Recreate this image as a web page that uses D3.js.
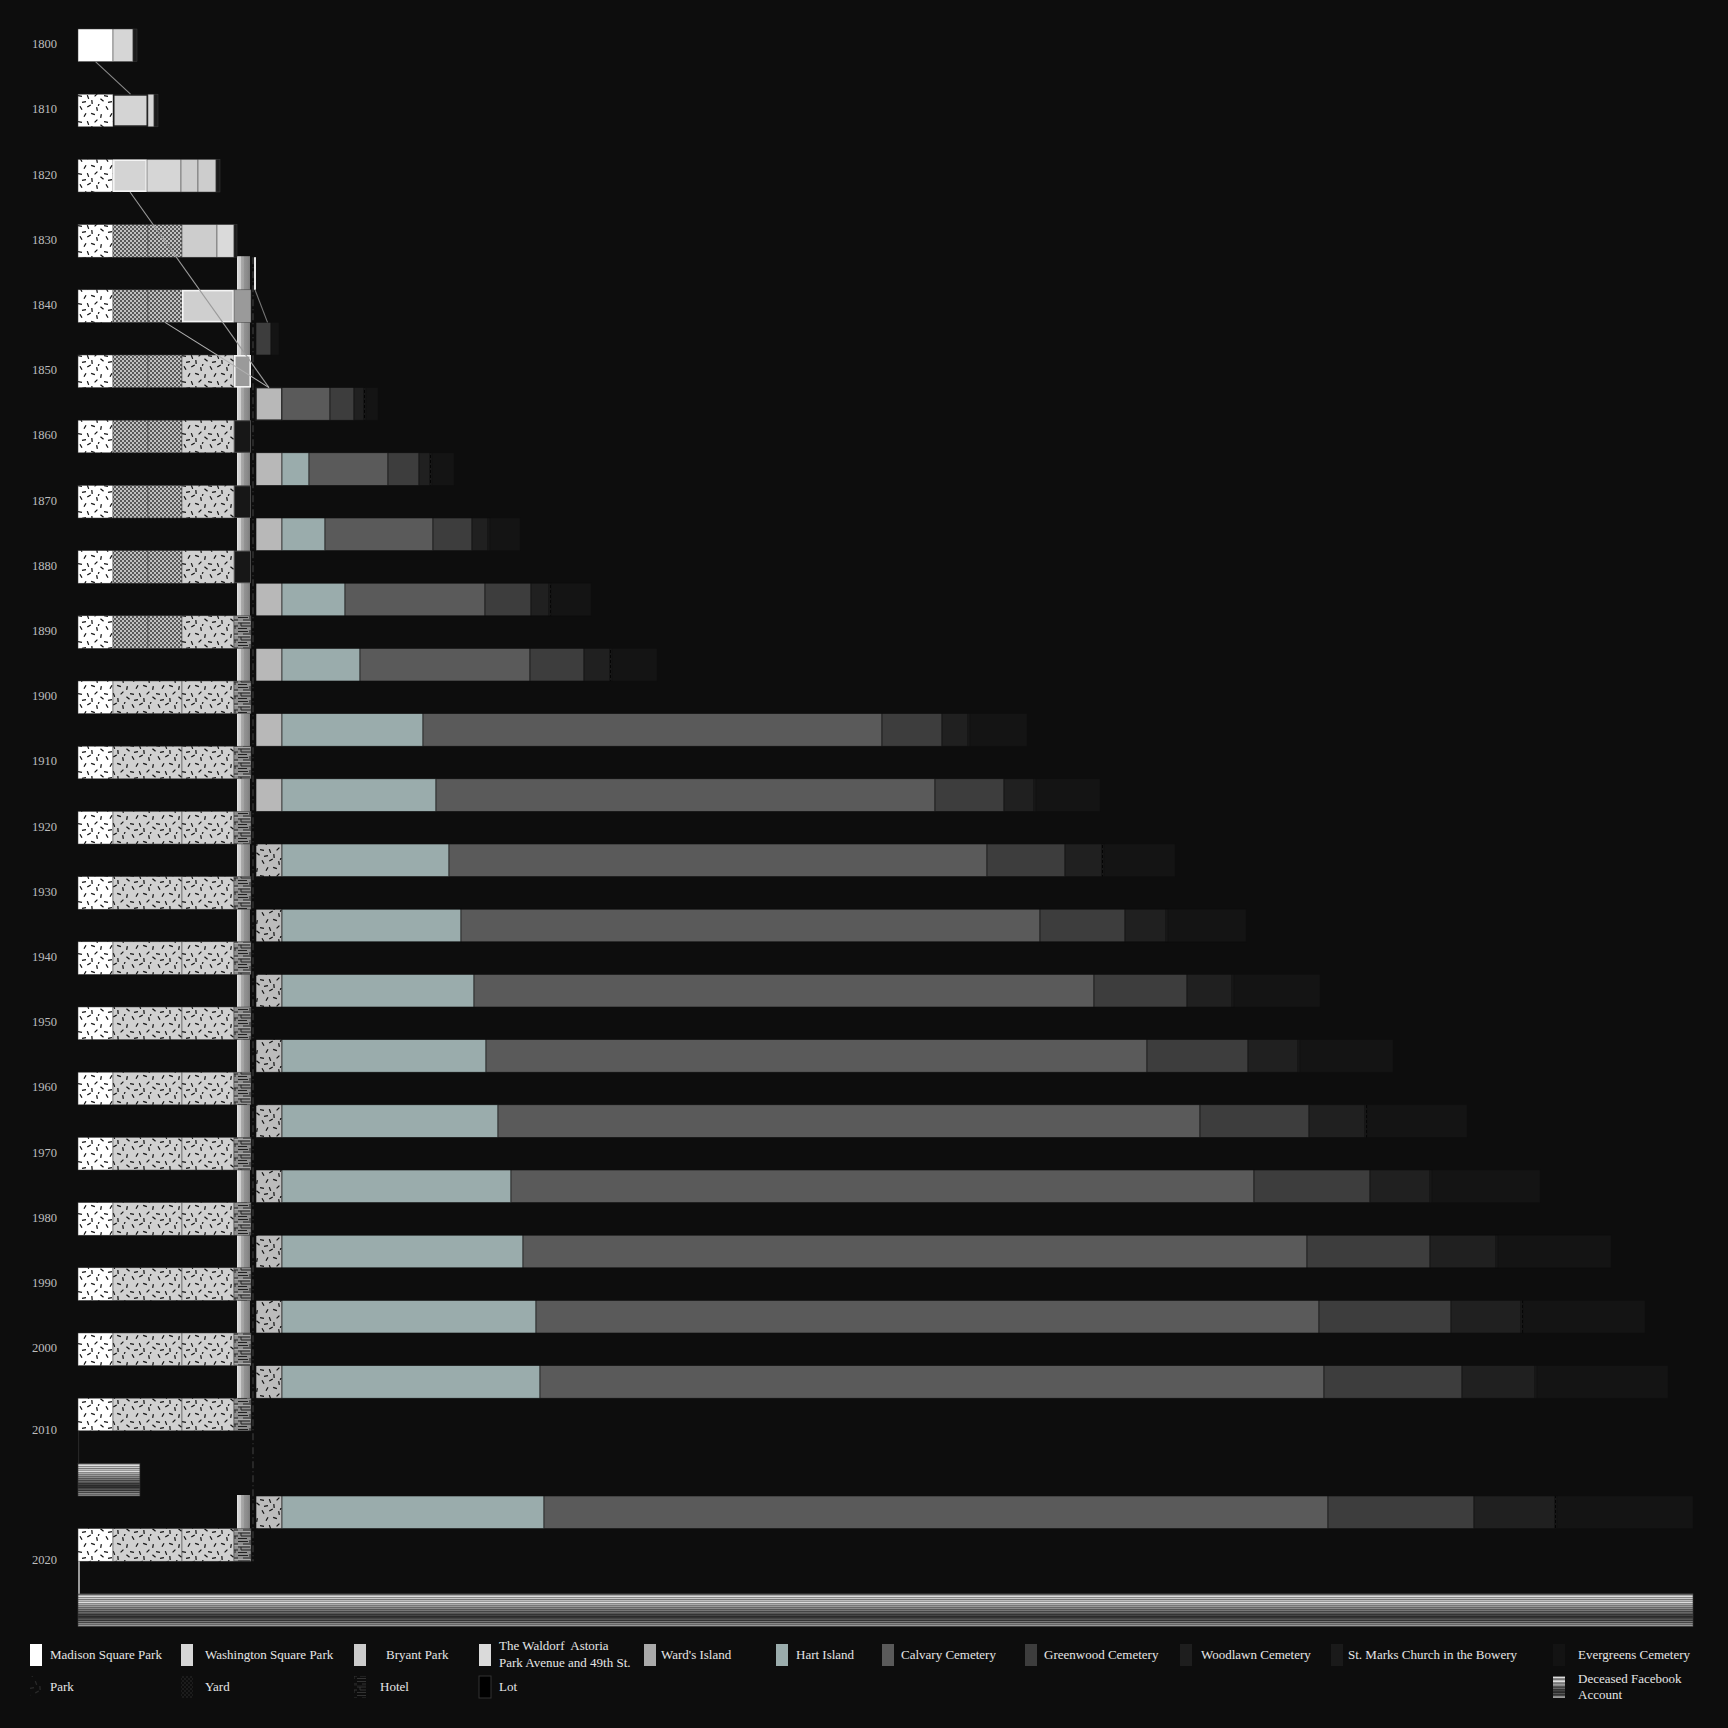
<!DOCTYPE html>
<html><head><meta charset="utf-8">
<script src="https://cdn.jsdelivr.net/npm/d3@7"></script>
<style>
html,body{margin:0;padding:0;background:#0d0d0d;}
svg{display:block;}
text{font-family:"Liberation Serif","DejaVu Serif",serif;}
</style></head><body>
<svg id="chart" width="1728" height="1728"></svg>
<script>
// ---------------- DATA ----------------
const leftYears = [1800,1810,1820,1830,1840,1850,1860,1870,1880,1890,1900,1910,1920,1930,1940,1950,1960,1970,1980,1990,2000,2010,2020];
// land use of the four old potter's field sites per year: [use, extent]
const leftRows = [
  [["msp",35],["wsp",20],["edge",4]],
  [["mspPark",35],["wspBox",35],["wsp",6],["edge",4]],
  [["mspPark",35],["wspHi",34],["wsp",34],["bryant",17],["bryant",18],["edge",4]],
  [["mspPark",35],["yard",35],["yard",34],["bryant",35],["waldorf",17],["edge",3]],
  [["mspPark",35],["yard",35],["yard",34],["bryantHi",52],["ward",17]],
  [["mspPark",35],["yard",35],["yard",34],["parkGray",52],["waldorfHi",17]],
  [["mspPark",35],["yard",35],["yard",34],["parkGray",52],["lot",17]],
  [["mspPark",35],["yard",35],["yard",34],["parkGray",52],["lot",17]],
  [["mspPark",35],["yard",35],["yard",34],["parkGray",52],["lot",17]],
  [["mspPark",35],["yard",35],["yard",34],["parkGray",52],["hotel",17]]
];
const modernRow = [["mspPark",35],["parkGray",69],["parkGray",52],["hotel",17]];

const decades = ["1830s","1840s","1850s","1860s","1870s","1880s","1890s","1900s","1910s","1920s","1930s","1940s","1950s","1960s","1970s","1980s","1990s","2000s","2010s"];
const wardsIsland = [0,0,26,26,26,26,26,26,26,26,26,26,26,26,26,26,26,26,26];
const wardsIsPark = [0,0,0,0,0,0,0,0,0,1,1,1,1,1,1,1,1,1,1];
const hartIsland  = [0,0,0,27,43,63,78,141,154,167,179,192,204,216,229,241,254,258,262];
const calvary     = [0,0,48,79,108,140,170,459,499,538,579,620,661,702,743,784,783,784,784];
const greenwood   = [0,15,24,31,39,46,54,60,69,78,85,93,101,109,116,123,132,138,146];
const woodlawn    = [0,0,10,11,16,18,26,26,30,37,41,45,50,56,60,66,70,73,81];
const stMarks     = [0,0,2,2,2,2,2,2,2,2,2,2,2,2,2,2,2,2,2];
const evergreens  = [0,8,12,22,30,40,45,57,64,71,78,86,93,100,108,113,122,131,136];
const transfer1830s = 2;

const fbYears = ["2010","2020"];
const fbAccounts = [1.2, 31.3];

const legendRow1 = ["Madison Square Park","Washington Square Park","Bryant Park",["The Waldorf  Astoria","Park Avenue and 49th St."],"Ward's Island","Hart Island","Calvary Cemetery","Greenwood Cemetery","Woodlawn Cemetery","St. Marks Church in the Bowery","Evergreens Cemetery"];
const legendRow2 = ["Park","Yard","Hotel","Lot",["Deceased Facebook","Account"]];

// ---------------- SETUP ----------------
const svg = d3.select("#chart");
svg.append("rect").attr("width",1728).attr("height",1728).attr("fill","#0d0d0d");
const defs = svg.append("defs");

const dashes = [[3,4,60],[11,2,-30],[19,5,80],[7,11,-60],[15,10,20],[23,12,-80],[2,18,10],[10,19,70],[18,17,-45],[24,22,40],[6,24,-10],[14,24,85],[21,0,-70]];
function parkPattern(id,bg,ink){
  const p = defs.append("pattern").attr("id",id).attr("patternUnits","userSpaceOnUse").attr("width",26).attr("height",26);
  p.append("rect").attr("width",26).attr("height",26).attr("fill",bg);
  dashes.forEach(([x,yy,a])=>{
    p.append("line").attr("x1",x-2).attr("x2",x+2).attr("y1",yy).attr("y2",yy)
      .attr("transform",`rotate(${a},${x},${yy})`).attr("stroke",ink).attr("stroke-width",1.2);
  });
}
parkPattern("parkWhite","#ffffff","#111");
parkPattern("parkGray","#d0d0d0","#111");
parkPattern("parkLight","#bcbcbc","#111");
parkPattern("parkDark","#0d0d0d","#2a2a2a");

function yardPattern(id,light,dark){
  const p = defs.append("pattern").attr("id",id).attr("patternUnits","userSpaceOnUse").attr("width",4).attr("height",4);
  p.append("rect").attr("width",4).attr("height",4).attr("fill",light);
  p.append("rect").attr("width",2).attr("height",2).attr("fill",dark);
  p.append("rect").attr("x",2).attr("y",2).attr("width",2).attr("height",2).attr("fill",dark);
}
yardPattern("yard","#c0c0c0","#585858");
yardPattern("yardDark","#1c1c1c","#0d0d0d");

function hotelPattern(id,bg,ink,hi){
  const p = defs.append("pattern").attr("id",id).attr("patternUnits","userSpaceOnUse").attr("width",17).attr("height",14);
  p.append("rect").attr("width",17).attr("height",14).attr("fill",bg);
  [[0,1.5,10],[5,4,17],[0,7,12],[3,10,17],[0,12.5,9]].forEach(([x1,yy,x2])=>{
    p.append("line").attr("x1",x1).attr("x2",x2).attr("y1",yy).attr("y2",yy).attr("stroke",ink).attr("stroke-width",1);
  });
  [[12,0,3],[3,7,3],[14,10,3]].forEach(([x,yy,h])=>{
    p.append("line").attr("x1",x).attr("x2",x).attr("y1",yy).attr("y2",yy+h).attr("stroke",ink).attr("stroke-width",1);
  });
  p.append("line").attr("x1",0).attr("x2",17).attr("y1",5.5).attr("y2",5.5).attr("stroke",hi).attr("stroke-width",0.8);
}
hotelPattern("hotel","#8e8e8e","#222","#b0b0b0");
hotelPattern("hotelDark","#0d0d0d","#333","#1a1a1a");

const sm = defs.append("pattern").attr("id","stmarks").attr("patternUnits","userSpaceOnUse").attr("width",3).attr("height",5);
sm.append("rect").attr("width",3).attr("height",5).attr("fill","#1c1c1c");
sm.append("rect").attr("x",1).attr("width",1).attr("height",3).attr("fill","#000");

const fbStripes = ["#666","#aaa","#ddd","#888","#ccc","#777","#bbb","#999","#ddd","#888","#aaa","#777","#999","#666","#888","#555","#777","#444","#666","#555","#333","#444","#2a2a2a","#333","#2a2a2a","#444","#555","#333","#777","#444","#888","#666","#999"];
const fg = defs.append("linearGradient").attr("id","fbGrad").attr("x1",0).attr("y1",0).attr("x2",0).attr("y2",1);
fbStripes.forEach((c,i)=>{
  fg.append("stop").attr("offset",i/fbStripes.length).attr("stop-color",c);
  fg.append("stop").attr("offset",(i+1)/fbStripes.length).attr("stop-color",c);
});
const sg = defs.append("linearGradient").attr("id","stripGrad").attr("x1",0).attr("y1",0).attr("x2",1).attr("y2",0);
[["0","#e6e6e6"],["0.15","#cfcfcf"],["0.3","#cfcfcf"],["0.31","#ababab"],["0.55","#a0a0a0"],["0.56","#939393"],["0.8","#8a8a8a"],["1","#7c7c7c"]]
  .forEach(([o,c])=>sg.append("stop").attr("offset",o).attr("stop-color",c));

const rowKeys = [];
for(let yr=1800; yr<=2000; yr+=10){ rowKeys.push(String(yr)); rowKeys.push(yr+"s"); }
rowKeys.push("2010","gap","fb2010","2010s","2020","stem","fb2020");
const y = d3.scaleBand().domain(rowKeys).range([29, 29 + rowKeys.length*32.6]);
const bw = y.bandwidth();

const xL = d3.scaleLinear().domain([0,172]).range([78,250]);
const xR = d3.scaleLinear().domain([0,1437]).range([256,1693]);
const xF = d3.scaleLinear().domain([0,31.3]).range([78,1693]);

// ---------------- BACKGROUND STRUCTURE ----------------
svg.append("g").selectAll("rect").data(decades).join("rect")
  .attr("x", xL(159)).attr("width", xL(172)-xL(159))
  .attr("y", d=>y(d)-1).attr("height", bw+2)
  .attr("fill","url(#stripGrad)");

svg.append("line")
  .attr("x1",(xL(172)+xR(0))/2).attr("x2",(xL(172)+xR(0))/2)
  .attr("y1",y("1830s")).attr("y2",y("2020")+bw)
  .attr("stroke","#3a3a3a").attr("stroke-width",1.2).attr("stroke-dasharray","7,3,1,3");

// ---------------- LEFT ROWS ----------------
const leftStyle = {
  msp:{fill:"#ffffff"}, mspPark:{fill:"url(#parkWhite)"},
  wsp:{fill:"#d6d6d6"}, wspBox:{fill:"#d4d4d4",stroke:"#1c1c1c",sw:1.5},
  wspHi:{fill:"#d4d4d4",stroke:"#f4f4f4",sw:1.6},
  bryant:{fill:"#cdcdcd"}, bryantHi:{fill:"#cfcfcf",stroke:"#f4f4f4",sw:1.6},
  yard:{fill:"url(#yard)"}, parkGray:{fill:"url(#parkGray)"},
  waldorf:{fill:"#dadada"}, ward:{fill:"#9a9a9a"},
  waldorfHi:{fill:"#9a9a9a",stroke:"#f4f4f4",sw:1.6},
  lot:{fill:"#171717",stroke:"#4a4a4a",sw:1},
  hotel:{fill:"url(#hotel)"}, edge:{fill:"#1b1b1b"}
};
const segPos = {};
const leftData = [];
leftYears.forEach((yr,i)=>{
  const row = i < leftRows.length ? leftRows[i] : modernRow;
  let acc = 0; segPos[String(yr)] = [];
  row.forEach(([type,w])=>{
    leftData.push({key:String(yr), type, x0:acc, x1:acc+w});
    segPos[String(yr)].push([xL(acc), xL(acc+w)]);
    acc += w;
  });
});
const gL = svg.append("g");
gL.selectAll("rect").data(leftData).join("rect")
  .each(function(d){
    const s = leftStyle[d.type];
    const sw = s.sw || 0;
    d3.select(this)
      .attr("x", xL(d.x0)+sw/2).attr("width", xL(d.x1)-xL(d.x0)-sw)
      .attr("y", y(d.key)+sw/2).attr("height", bw-sw)
      .attr("fill", s.fill)
      .attr("stroke", s.stroke || "#3c3c3c")
      .attr("stroke-width", s.stroke ? sw : 0.5);
  });

// ---------------- RIGHT STACKED BARS ----------------
const table = decades.map((d,i)=>({decade:d, wards:wardsIsland[i], hart:hartIsland[i], calvary:calvary[i], greenwood:greenwood[i], woodlawn:woodlawn[i], stmarks:stMarks[i], evergreens:evergreens[i], park:wardsIsPark[i]}));
const keys = ["wards","hart","calvary","greenwood","woodlawn","stmarks","evergreens"];
const colors = {wards:"#b8b8b8", hart:"#9aacac", calvary:"#5a5a5a", greenwood:"#3d3d3d", woodlawn:"#202020", stmarks:"url(#stmarks)", evergreens:"#141414"};
const stack = d3.stack().keys(keys)(table);
const gR = svg.append("g");
stack.forEach(layer=>{
  const isFirst = d => layer.key==="wards" && d.data.decade==="1850s";
  gR.append("g").selectAll("rect").data(layer.filter(d=>d[1]>d[0])).join("rect")
    .attr("x", d=>xR(d[0])).attr("width", d=>xR(d[1])-xR(d[0]))
    .attr("y", d=>y(d.data.decade)).attr("height", bw)
    .attr("fill", d=> layer.key==="wards" && d.data.park ? "url(#parkLight)" : colors[layer.key])
    .attr("stroke", d=> isFirst(d) ? "#1a1a1a" : "#0f0f0f")
    .attr("stroke-width", d=> isFirst(d) ? 1.5 : 0.6);
});
gR.append("rect").attr("x", xR(0)-transfer1830s).attr("width", transfer1830s)
  .attr("y", y("1830s")).attr("height", bw).attr("fill","#e8e8e8");

// ---------------- FACEBOOK ----------------
fbYears.forEach((yr,i)=>{
  svg.append("rect").attr("x",xF(0)).attr("width",xF(fbAccounts[i])-xF(0))
    .attr("y",y("fb"+yr)).attr("height",bw)
    .attr("fill","url(#fbGrad)").attr("stroke","#3a3a3a").attr("stroke-width",0.6);
});
svg.append("rect").attr("x",xF(0)).attr("width",2).attr("y",y("2020")+bw).attr("height",y("fb2020")-y("2020")-bw).attr("fill","#9a9a9a");
svg.append("rect").attr("x",xF(0)).attr("width",1.2).attr("y",y("2010")+bw).attr("height",y("fb2010")-y("2010")-bw).attr("fill","#262626");

// ---------------- TRANSFERS ----------------
function rightSpan(dec, key){
  const i = decades.indexOf(dec);
  if(key==="all"){ const l = stack[stack.length-1][i]; return [xR(0), xR(l[1])]; }
  if(key==="marker") return [xR(0)-transfer1830s, xR(0)];
  const l = stack.find(s=>s.key===key)[i]; return [xR(l[0]), xR(l[1])];
}
const transfers = [
  {from:["1800",0], to:["1810",1], color:"#8a8a8a"},
  {from:["1820",1], to:["1850s","wards"], color:"#9a9a9a"},
  {from:["1840",2], to:["1850s","wards"], color:"#b0b0b0"},
  {from:["1830s","marker"], to:["1840s","all"], color:"#777"}
];
function span(ref){
  return typeof ref[1]==="number" ? segPos[ref[0]][ref[1]] : rightSpan(ref[0],ref[1]);
}
svg.append("g").selectAll("line").data(transfers).join("line")
  .attr("x1", d=>{const s=span(d.from); return (s[0]+s[1])/2;})
  .attr("y1", d=>y(d.from[0])+bw)
  .attr("x2", d=>{const s=span(d.to); return (s[0]+s[1])/2;})
  .attr("y2", d=>y(d.to[0]))
  .attr("stroke", d=>d.color).attr("stroke-width",1.1);

// ---------------- YEAR LABELS ----------------
svg.append("g").selectAll("text").data(leftYears).join("text")
  .attr("x",32)
  .attr("y", d=> y(String(d)) + (d>2000 ? bw : bw/2))
  .attr("dominant-baseline","middle")
  .attr("fill","#bdbdbd").attr("font-size",12.5)
  .text(d=>d);

// ---------------- LEGEND ----------------
const legCols = [30,181,354,479,644,776,882,1025,1180,1331,1553];
const legTextOff = [20,24,32,20,17,20,19,19,21,17,25];
const legFill1 = ["#ffffff","#d6d6d6","#cbcbcb","#dadada","#aaaaaa","#9aacac","#5a5a5a","#3d3d3d","#1e1e1e","#1a1a1a","#131313"];
const gLeg = svg.append("g");
function legText(x,yy,s){
  gLeg.append("text").attr("x",x).attr("y",yy).attr("fill","#e6e6e6").attr("font-size",13)
    .attr("dominant-baseline","middle").style("white-space","pre").text(s);
}
legendRow1.forEach((lab,i)=>{
  gLeg.append("rect").attr("x",legCols[i]).attr("y",1644).attr("width",12).attr("height",22).attr("fill",legFill1[i]);
  if(Array.isArray(lab)){
    legText(legCols[i]+legTextOff[i],1647,lab[0]);
    legText(legCols[i]+legTextOff[i],1664,lab[1]);
  } else legText(legCols[i]+legTextOff[i],1656,lab);
});
const legCols2 = [0,1,2,3,10];
const legFill2 = ["url(#parkDark)","url(#yardDark)","url(#hotelDark)","#000000","url(#fbGrad)"];
const legOff2 = [20,24,26,20,25];
legendRow2.forEach((lab,i)=>{
  const cx = legCols[legCols2[i]];
  gLeg.append("rect").attr("x",cx).attr("y",1676).attr("width",12).attr("height",22).attr("fill",legFill2[i])
    .attr("stroke", i===3 ? "#333" : "none");
  if(Array.isArray(lab)){
    legText(cx+legOff2[i],1680,lab[0]);
    legText(cx+legOff2[i],1696,lab[1]);
  } else legText(cx+legOff2[i],1688,lab);
});
</script>
</body></html>
